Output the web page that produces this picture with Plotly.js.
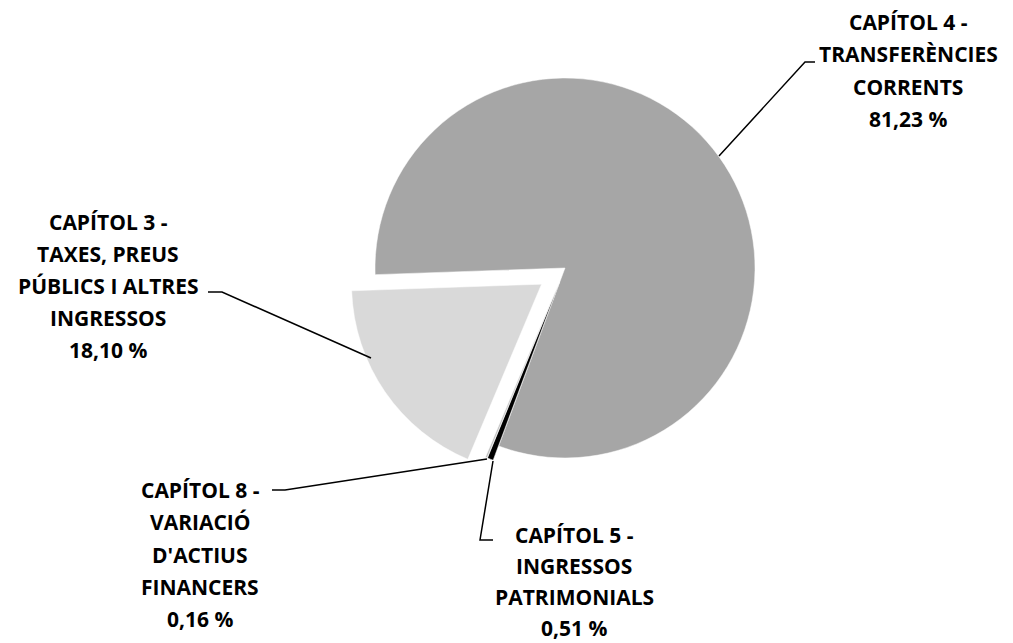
<!DOCTYPE html>
<html>
<head>
<meta charset="utf-8">
<script src="https://cdn.plot.ly/plotly-3.0.1.min.js"></script>
<style>html,body{margin:0;padding:0;background:#fff;}#chart{width:1013px;height:643px;}</style>
</head>
<body>
<div id="chart"></div>
<script>
// Data
var categories = ["CAPÍTOL 4 - TRANSFERÈNCIES CORRENTS", "CAPÍTOL 5 - INGRESSOS PATRIMONIALS", "CAPÍTOL 8 - VARIACIÓ D'ACTIUS FINANCERS", "CAPÍTOL 3 - TAXES, PREUS PÚBLICS I ALTRES INGRESSOS"];
var values = [81.23, 0.51, 0.16, 18.10];
var valueLabels = ["81,23 %", "0,51 %", "0,16 %", "18,10 %"];
var labelLines = [
  ["CAPÍTOL 4 -", "TRANSFERÈNCIES", "CORRENTS"],
  ["CAPÍTOL 5 -", "INGRESSOS", "PATRIMONIALS"],
  ["CAPÍTOL 8 -", "VARIACIÓ", "D'ACTIUS", "FINANCERS"],
  ["CAPÍTOL 3 -", "TAXES, PREUS", "PÚBLICS I ALTRES", "INGRESSOS"]
];
var colors = ["#a6a6a6", "#000000", "#bfbfbf", "#d9d9d9"];
var pulls = [0, 0.08, 0.08, 0.15];

// Layout helpers (pixel positions)
var W = 1013, H = 643;
function px(x){ return x / W; }
function py(y){ return 1 - y / H; }

var labelPos = [ // centre x, first line y, line step
  {x: 908, y: 22, step: 32.3},
  {x: 574, y: 535, step: 31},
  {x: 200, y: 490, step: 32.3},
  {x: 108, y: 222, step: 32}
];
var leaders = [
  [[719,156],[805,62],[815,62]],
  [[493,461],[480,540],[493,540]],
  [[487,459],[285,490],[272,490]],
  [[371,358],[222,292],[208,292]]
];

var annotations = [];
labelPos.forEach(function(p, i){
  var lines = labelLines[i].concat([valueLabels[i]]);
  lines.forEach(function(t, j){
    annotations.push({
      text: t, xref: 'paper', yref: 'paper',
      x: px(p.x), y: py(p.y + j * p.step),
      xanchor: 'center', yanchor: 'middle', showarrow: false, borderpad: 0,
      font: {family: '"Open Sans", sans-serif', size: 21, color: '#000', weight: 700}
    });
  });
});

var shapes = [];
leaders.forEach(function(pts){
  var path = 'M' + pts.map(function(p){ return px(p[0]) + ',' + py(p[1]); }).join(' L');
  shapes.push({type: 'path', xref: 'paper', yref: 'paper', path: path, line: {color: '#000', width: 1.5}});
});

var trace = {
  type: 'pie',
  labels: categories,
  values: values,
  sort: false,
  direction: 'clockwise',
  rotation: 268,
  pull: pulls,
  textinfo: 'none',
  hoverinfo: 'label+percent',
  marker: {colors: colors, line: {color: '#ffffff', width: 0.5}},
  domain: {x: [px(346.5), px(783.5)], y: [py(486.5), py(49.5)]},
  showlegend: false
};

var layout = {
  width: W, height: H,
  margin: {l: 0, r: 0, t: 0, b: 0},
  paper_bgcolor: '#ffffff',
  showlegend: false,
  annotations: annotations,
  shapes: shapes
};

Plotly.newPlot('chart', [trace], layout, {displayModeBar: false, staticPlot: true});
</script>
</body>
</html>
